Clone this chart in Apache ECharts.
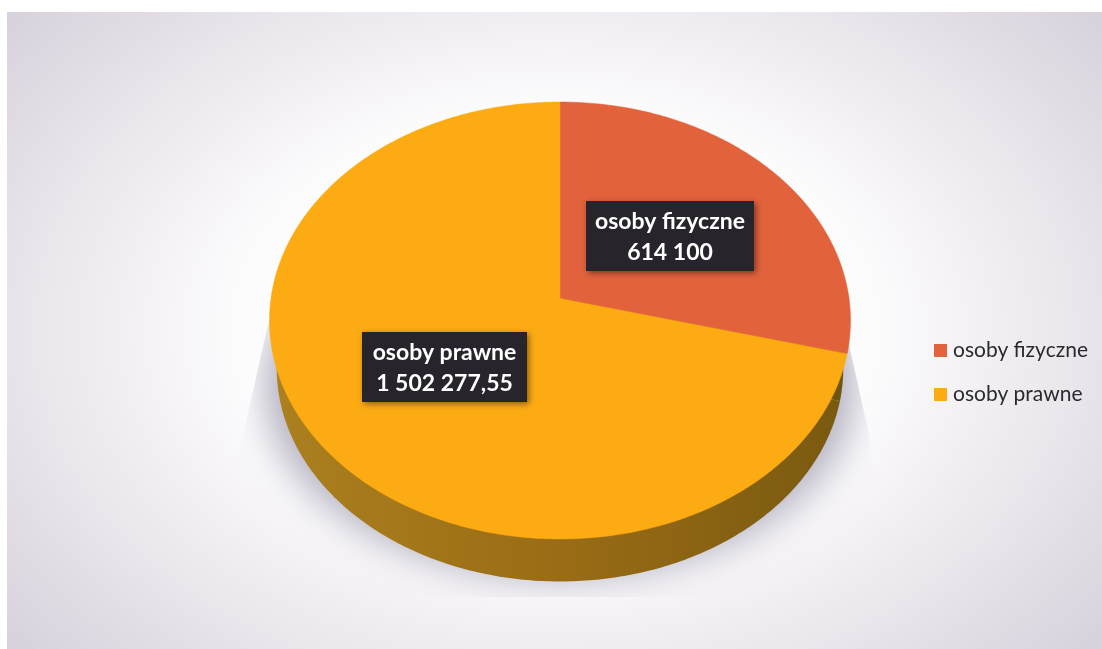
<!DOCTYPE html>
<html>
<head>
<meta charset="utf-8">
<style>html,body{margin:0;padding:0;background:#fff}#chart{width:1102px;height:649px}</style>
<script src="https://cdn.jsdelivr.net/npm/echarts@6/dist/echarts.min.js"></script>
</head>
<body>
<div id="chart"></div>
<script>
const categories = ['osoby fizyczne', 'osoby prawne'];
const values = [614100, 1502277.55];
const faceColors = ['#e2623c', '#fdab12'];
const wallStops = [
  ['#6f5410', '#6f5410'],
  ['#7a5a10', '#9a6c15', '#ab801f']
];

// Tilted-disc geometry: the disc is a circle seen in perspective, so its
// centre (where slices meet) sits above the middle of the outline.
const disc = { cx: 560, halfWidth: 290.5, top: 102, apex: 298.5, bottom: 539 };
const wall = { scale: 0.975, drop: 48.5 };
const labelBoxes = [
  { x: 586, y: 201, w: 168, h: 70 },
  { x: 362, y: 332, w: 165, h: 70 }
];

const total = values.reduce((a, b) => a + b, 0);
const C = (2 * disc.apex - disc.top - disc.bottom) / (disc.top - disc.bottom);
const A = disc.top * (1 + C) - disc.apex;
const K = disc.halfWidth * Math.sqrt(1 - C * C);

function project(angle, lower) {
  const u = Math.cos(angle), v = Math.sin(angle), w = 1 + C * v;
  const x = K * u / w, y = (A * v + disc.apex) / w;
  if (!lower) return [disc.cx + x, y];
  return [disc.cx + wall.scale * x, disc.apex + wall.drop + wall.scale * (y - disc.apex)];
}

function slicePoints(start, end, lower) {
  const pts = [lower ? [disc.cx, disc.apex + wall.drop] : [disc.cx, disc.apex]];
  const n = Math.max(8, Math.ceil((start - end) * 80));
  for (let i = 0; i <= n; i++) pts.push(project(start + (end - start) * i / n, lower));
  return pts;
}

function sliceAngles(index) {
  let before = 0;
  for (let i = 0; i < index; i++) before += values[i];
  const start = Math.PI / 2 - before / total * Math.PI * 2;
  return [start, start - values[index] / total * Math.PI * 2];
}

function formatValue(v) {
  const [whole, frac] = String(v).split('.');
  const grouped = whole.replace(/\B(?=(\d{3})+(?!\d))/g, ' ');
  return frac ? grouped + ',' + frac : grouped;
}

function renderSlice(index) {
  return function (params, api) {
    const [start, end] = sliceAngles(index);
    const box = labelBoxes[index];
    const stops = wallStops[index];
    return {
      type: 'group',
      children: [
        {
          type: 'polygon',
          z2: 1,
          shape: { points: slicePoints(start, end, true) },
          style: {
            fill: new echarts.graphic.LinearGradient(0, 0, 1, 0,
              stops.map((c, i) => ({ offset: 1 - i / (stops.length - 1), color: c }))),
            stroke: null
          }
        },
        {
          type: 'polygon',
          z2: 10,
          shape: { points: slicePoints(start, end, false) },
          style: { fill: faceColors[index], stroke: faceColors[index], lineWidth: 0.5 }
        },
        {
          type: 'rect',
          z2: 20,
          shape: { x: box.x, y: box.y, width: box.w, height: box.h },
          style: {
            fill: '#28242c',
            shadowBlur: 6,
            shadowOffsetX: 2,
            shadowOffsetY: 2,
            shadowColor: 'rgba(0,0,0,0.45)'
          }
        },
        {
          type: 'text',
          z2: 21,
          x: box.x + box.w / 2,
          y: box.y + box.h / 2 + 1,
          style: {
            text: categories[index] + '\n' + formatValue(api.value(0)),
            fill: '#ffffff',
            font: '700 23px Lato',
            lineHeight: 31,
            align: 'center',
            verticalAlign: 'middle'
          }
        }
      ]
    };
  };
}

// Soft drop shadow under the disc, cut off along the plot's lower edge.
// The caster sits off-canvas so only its blurred shadow lands in view.
function renderShadow() {
  const away = 3000;
  const pts = [];
  for (let i = 0; i < 120; i++) {
    const a = i / 120 * Math.PI * 2;
    pts.push([disc.cx - away + 296 * Math.cos(a), 385 + 194 * Math.sin(a)]);
  }
  return {
    type: 'polygon',
    clipPath: {
      type: 'polygon',
      shape: { points: [[269, 320], [235, 470], [235, 597], [890, 597], [868, 430], [848, 340]] }
    },
    shape: { points: pts },
    style: { fill: '#000', shadowBlur: 36, shadowOffsetX: away, shadowColor: '#b4b2c1' }
  };
}

const bgScale = 0.7;
const chart = echarts.init(document.getElementById('chart'), null, { renderer: 'canvas' });
chart.setOption({
  animation: false,
  graphic: [{
    type: 'rect',
    z: -10,
    originX: 555,
    originY: 330,
    scaleY: bgScale,
    shape: { x: 7, y: 330 - 318 / bgScale, width: 1095, height: 637 / bgScale },
    style: {
      fill: new echarts.graphic.RadialGradient(555, 330, 700, [
        { offset: 0, color: '#ffffff' },
        { offset: 0.45, color: '#fdfcfd' },
        { offset: 0.68, color: '#eeebf0' },
        { offset: 1, color: '#d8d2dc' }
      ], true)
    }
  }],
  legend: {
    data: categories,
    orient: 'vertical',
    left: 934,
    top: 340,
    padding: 0,
    itemWidth: 13,
    itemHeight: 13,
    itemGap: 23,
    icon: 'rect',
    textStyle: { color: '#2a2a2e', fontFamily: 'Lato', fontSize: 21, padding: [0, 0, 0, 1] }
  },
  series: [
    {
      type: 'custom',
      name: 'cień',
      coordinateSystem: 'none',
      silent: true,
      z: 1,
      data: [[0]],
      renderItem: renderShadow
    }
  ].concat(categories.map((name, i) => ({
    type: 'custom',
    name: name,
    coordinateSystem: 'none',
    silent: true,
    z: 2,
    itemStyle: { color: faceColors[i] },
    data: [[values[i]]],
    renderItem: renderSlice(i)
  })))
});
</script>
</body>
</html>
